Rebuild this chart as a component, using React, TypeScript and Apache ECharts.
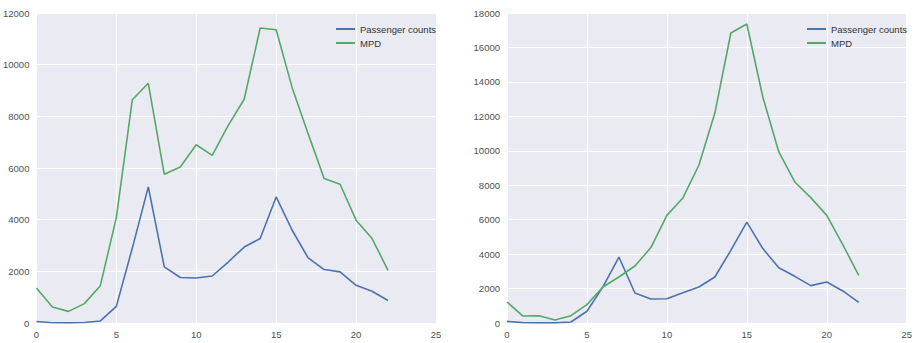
import React, { useEffect, useRef } from "react";
import * as echarts from "echarts";

const hours = Array.from({ length: 23 }, (_, i) => i);
const seriesNames = ["Passenger counts", "MPD"];

const leftPassenger = [60, 10, 5, 20, 80, 645, 2900, 5270, 2170, 1760, 1740, 1820, 2360, 2940, 3270, 4880, 3590, 2520, 2070, 1980, 1460, 1230, 870];
const leftMPD = [1355, 620, 450, 750, 1445, 4080, 8640, 9280, 5755, 6040, 6900, 6490, 7650, 8660, 11420, 11350, 9110, 7330, 5590, 5370, 3980, 3270, 2040];

const rightPassenger = [95, 20, 10, 10, 60, 680, 2100, 3830, 1740, 1390, 1410, 1760, 2090, 2670, 4220, 5860, 4320, 3210, 2710, 2170, 2380, 1860, 1200];
const rightMPD = [1220, 405, 425, 175, 425, 1065, 2090, 2670, 3310, 4380, 6250, 7260, 9160, 12190, 16840, 17360, 13120, 9930, 8190, 7280, 6250, 4550, 2770];

const xTicks = { min: 0, max: 25, interval: 5 };
const leftY = { min: 0, max: 12000, interval: 2000 };
const rightY = { min: 0, max: 18000, interval: 2000 };

const BLUE = "#4C72B0";
const GREEN = "#55A868";

export default function App() {
  const ref = useRef<HTMLDivElement>(null);
  useEffect(() => {
    document.body.style.margin = "0";
    const chart = echarts.init(ref.current!, null, { renderer: "svg" });
    const font = "'Liberation Sans', Arial, sans-serif";
    const labelStyle = { color: "#505050", fontSize: 9.5, fontFamily: font };
    const xAxis = (gi: number) => ({
      type: "value",
      gridIndex: gi,
      ...xTicks,
      axisLine: { show: false },
      axisTick: { show: false },
      axisLabel: { ...labelStyle, margin: 6, formatter: (v: number) => String(v) },
      splitLine: { show: true, lineStyle: { color: "#fff", width: 1 } },
    });
    const yAxis = (gi: number, r: any) => ({
      type: "value",
      gridIndex: gi,
      ...r,
      axisLine: { show: false },
      axisTick: { show: false },
      axisLabel: { ...labelStyle, margin: 7, formatter: (v: number) => String(v) },
      splitLine: { show: true, lineStyle: { color: "#fff", width: 1 } },
    });
    const line = (name: string, data: number[], gi: number, color: string) => ({
      type: "line",
      name,
      xAxisIndex: gi,
      yAxisIndex: gi,
      data: hours.map((h, i) => [h, data[i]]),
      showSymbol: false,
      symbol: "none",
      lineStyle: { color, width: 1.6 },
      itemStyle: { color },
    });
    const legend = (left: number) => ({
      left,
      top: 18,
      orient: "vertical",
      icon: "rect",
      itemWidth: 19,
      itemHeight: 2,
      itemGap: 2,
      data: seriesNames,
      textStyle: { color: "#333", fontSize: 9.5, fontFamily: font, lineHeight: 12 },
      selectedMode: false,
    });
    chart.setOption({
      animation: false,
      grid: [
        { left: 36, top: 13, width: 400, height: 310, show: true, backgroundColor: "#EAEAF2", borderWidth: 0 },
        { left: 507, top: 13, width: 400, height: 310, show: true, backgroundColor: "#EAEAF2", borderWidth: 0 },
      ],
      xAxis: [xAxis(0), xAxis(1)],
      yAxis: [yAxis(0, leftY), yAxis(1, rightY)],
      legend: [legend(331), legend(802)],
      series: [
        line(seriesNames[0], leftPassenger, 0, BLUE),
        line(seriesNames[1], leftMPD, 0, GREEN),
        line(seriesNames[0], rightPassenger, 1, BLUE),
        line(seriesNames[1], rightMPD, 1, GREEN),
      ],
    });
    return () => chart.dispose();
  }, []);
  return <div ref={ref} style={{ width: 915, height: 343 }} />;
}
